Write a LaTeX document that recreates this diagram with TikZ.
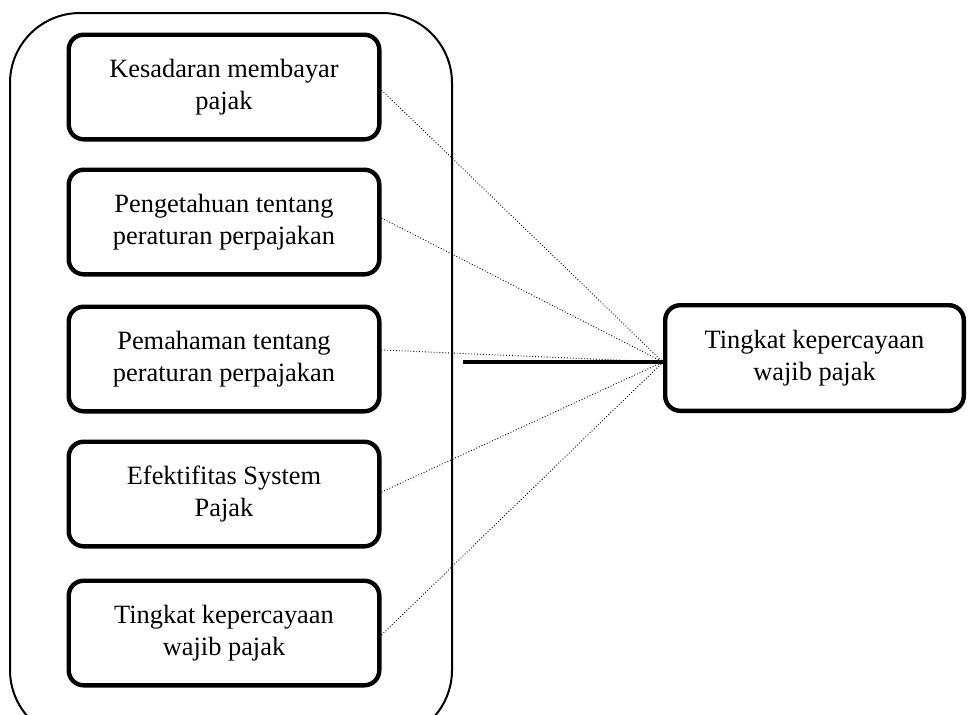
\documentclass[tikz,border=0pt]{standalone}
\usepackage{fontspec}
\setmainfont{Liberation Serif}
\usetikzlibrary{positioning}
\tikzset{
	factor/.style={draw, line width=2.2pt, rounded corners=7.5pt, minimum width=155.3pt, minimum height=52.3pt, align=center, inner sep=0pt, font=\fontsize{13.2}{16}\selectfont},
	link/.style={densely dotted, line width=0.45pt}
}
\begin{document}
\begin{tikzpicture}[x=0.5pt,y=-0.5pt]
	\useasboundingbox (0,0) rectangle (968,714);
	\begin{scope}
		\clip (0,0) rectangle (968,714);
		\draw[line width=1pt, rounded corners=35pt] (10,13) rectangle (452,740);
	\end{scope}
	\node[factor] (f1) at (224,87) {Kesadaran membayar\\pajak};
	\node[factor] (f2) at (224,222) {Pengetahuan tentang\\peraturan perpajakan};
	\node[factor] (f3) at (224,359) {Pemahaman tentang\\peraturan perpajakan};
	\node[factor] (f4) at (224,494) {Efektifitas System\\Pajak};
	\node[factor] (f5) at (224,633) {Tingkat kepercayaan\\wajib pajak};
	\node[factor, minimum width=149.3pt, minimum height=52.8pt] (hasil) at (814.5,358) {Tingkat kepercayaan\\wajib pajak};
	\coordinate (temu) at ([yshift=-2pt]hasil.west);
	\coordinate (awal) at (463,0 |- temu);
	\foreach \i/\d in {1/-1.5,2/2,3/4.5,4/1,5/-1} \draw[link] ([yshift=\d pt]f\i.east) -- (temu);
	\draw[line width=2.2pt] (awal) -- (temu);
\end{tikzpicture}
\end{document}
